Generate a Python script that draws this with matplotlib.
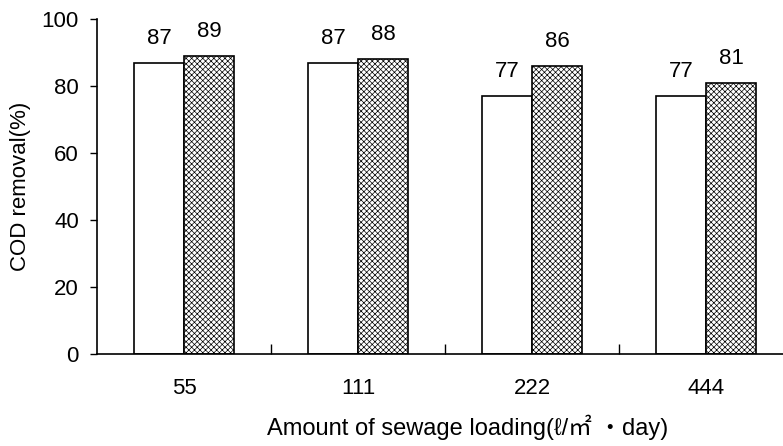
import matplotlib
matplotlib.use("Agg")
import matplotlib.pyplot as plt
import numpy as np

plt.rcParams['font.family'] = ['Liberation Sans', 'Noto Sans CJK JP', 'DejaVu Sans']
plt.rcParams['hatch.linewidth'] = 0.5
plt.rcParams['hatch.color'] = '#b4b4b4'

loadings = ["55", "111", "222", "444"]
series_a = [87, 87, 77, 77]
series_b = [89, 88, 86, 81]
y_ticks = [0, 20, 40, 60, 80, 100]

W, H = 783, 446
fig = plt.figure(figsize=(W / 100, H / 100), dpi=100)
left_px, right_px, bot_px, top_px = 97, 793, 354, 19
ax = fig.add_axes([left_px / W, 1 - bot_px / H,
                   (right_px - left_px) / W, (bot_px - top_px) / H])

fs = 16
x = np.arange(len(loadings))
bw = 0.287
bars_a = ax.bar(x - bw / 2, series_a, bw, facecolor='white', edgecolor='black', linewidth=1.2)
bars_b = ax.bar(x + bw / 2, series_b, bw, facecolor='white', edgecolor='black', linewidth=1.2,
                hatch='xxxxxx')

for bars, vals in ((bars_a, series_a), (bars_b, series_b)):
    for b, v in zip(bars, vals):
        ax.annotate(f"{v:d}", (b.get_x() + b.get_width() / 2, v), xytext=(0, 10),
                    textcoords='offset points', ha='center', va='bottom', fontsize=fs)

ax.set_xlim(-0.5, len(loadings) - 0.5)
ax.set_ylim(0, 100)
ax.set_yticks(y_ticks)
ax.tick_params(axis='y', direction='out', length=5, width=1, labelsize=fs, pad=8)

ax.set_xticks(x)
ax.set_xticklabels(loadings, fontsize=fs)
ax.tick_params(axis='x', which='major', length=0, pad=17)
ax.set_xticks(np.arange(len(loadings) - 1) + 0.5, minor=True)
ax.tick_params(axis='x', which='minor', direction='in', length=7, width=1)

for s in ('top', 'right'):
    ax.spines[s].set_visible(False)
for s in ('left', 'bottom'):
    ax.spines[s].set_linewidth(1.2)

ax.set_ylabel("COD removal(%)", fontsize=fs)
ax.yaxis.set_label_coords(-(97 - 31) / (right_px - left_px), 0.5)
ax.set_xlabel("Amount of sewage loading(ℓ/㎡ ・day)", fontsize=17)
ax.xaxis.set_label_coords((468 - left_px) / (right_px - left_px),
                          -(415 - bot_px) / (bot_px - top_px))

fig.savefig("out.png", dpi=100)
